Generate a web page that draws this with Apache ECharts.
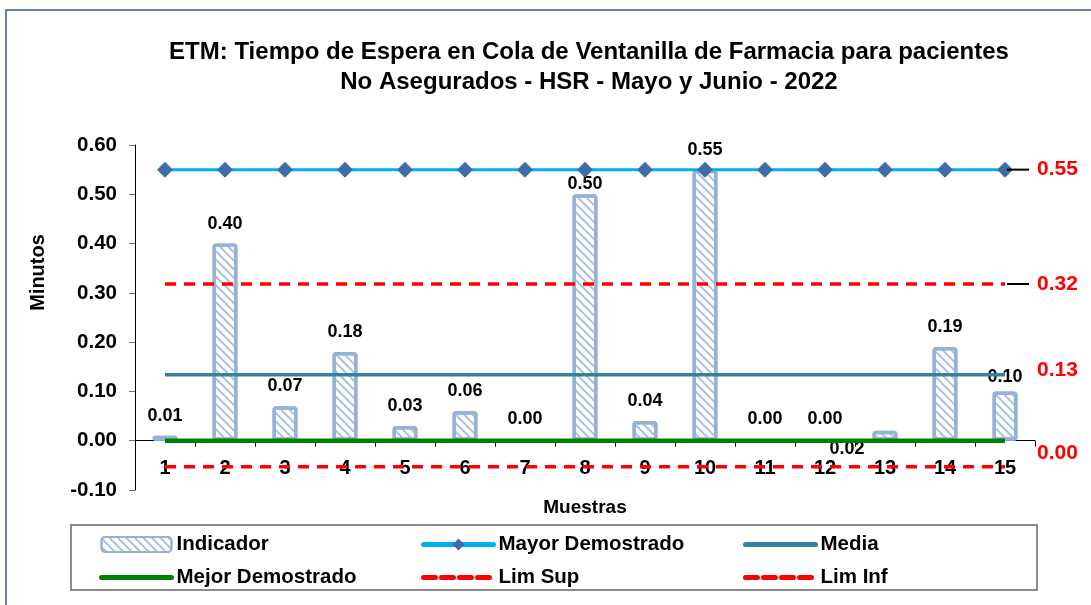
<!DOCTYPE html>
<html>
<head>
<meta charset="utf-8">
<script src="https://cdn.jsdelivr.net/npm/echarts@6/dist/echarts.min.js"></script>
<style>
  html, body { margin: 0; padding: 0; background: #fff; }
  #chart { width: 1091px; height: 605px; }
</style>
</head>
<body>
<div id="chart"></div>
<script>
// datos
var muestras = ['1', '2', '3', '4', '5', '6', '7', '8', '9', '10', '11', '12', '13', '14', '15'];
var indicador = [0.01, 0.40, 0.07, 0.18, 0.03, 0.06, 0.00, 0.50, 0.04, 0.55, 0.00, 0.00, 0.02, 0.19, 0.10];
var mayorDemostrado = 0.55;
var media = 0.134;
var mejorDemostrado = 0.00;
var limSup = 0.318;
var limInf = -0.053;
var yTicks = { min: -0.1, max: 0.6, step: 0.1 };

function flat(v) {
  return muestras.map(function () { return v; });
}

var font = 'Liberation Sans, Arial, sans-serif';
var azulBarra = '#95B3D7';

// etiqueta final a la derecha (con linea guia opcional)
function endLabel(color, guia, offsetY) {
  return {
    show: true,
    distance: 2,
    offset: [0, offsetY || 0],
    formatter: function (p) {
      var v = Math.max(0, p.value).toFixed(2);
      return (guia ? '{g|}' : '{e|}') + '{v|' + v + '}';
    },
    rich: {
      g: { width: 22, height: 2, backgroundColor: '#000', padding: 0 },
      e: { width: 22, height: 2 },
      v: { color: color, fontSize: 21, fontWeight: 'bold', fontFamily: font, padding: [0, 0, 0, 8] }
    }
  };
}

// leyenda: lineas mas gruesas y sin marcador
function itemLeyenda(nombre, tipo) {
  return {
    name: nombre,
    itemStyle: { opacity: 0 },
    lineStyle: { width: 5, cap: 'round', type: tipo || 'solid' }
  };
}

var chart = echarts.init(document.getElementById('chart'));
chart.setOption({
  backgroundColor: '#fff',
  animation: false,
  title: {
    text: 'ETM: Tiempo de Espera en Cola de Ventanilla de Farmacia para pacientes\nNo Asegurados - HSR - Mayo y Junio - 2022',
    left: 584,
    textAlign: 'center',
    top: 32,
    textStyle: { fontFamily: font, fontSize: 24, fontWeight: 'bold', color: '#000', lineHeight: 30 }
  },
  graphic: [
    { type: 'rect', shape: { x: 6, y: 10, width: 1200, height: 700 }, style: { fill: 'none', stroke: '#2E5C8E', lineWidth: 1.5 }, silent: true },
    { type: 'rect', shape: { x: 71, y: 525, width: 966, height: 65 }, style: { fill: 'none', stroke: '#666', lineWidth: 1.5 }, silent: true }
  ],
  legend: [
    { data: ['Indicador', itemLeyenda('Mejor Demostrado')], left: 99, top: 534 },
    { data: [{ name: 'Mayor Demostrado', lineStyle: { width: 5, cap: 'round' } }, itemLeyenda('Lim Sup', [12, 6])], left: 421, top: 534 },
    { data: [itemLeyenda('Media'), itemLeyenda('Lim Inf', [12, 6])], left: 743, top: 534 }
  ].map(function (l) {
    l.orient = 'vertical';
    l.itemWidth = 70;
    l.itemHeight = 15;
    l.itemGap = 12;
    l.padding = 0;
    l.textStyle = { fontFamily: font, fontSize: 20.5, fontWeight: 'bold', color: '#000', padding: [0, 0, 0, 0] };
    return l;
  }),
  grid: { left: 135, right: 56, top: 145, bottom: 115 },
  xAxis: {
    type: 'category',
    data: muestras,
    name: 'Muestras',
    nameLocation: 'middle',
    nameGap: 8,
    nameTextStyle: { fontFamily: font, fontSize: 19, fontWeight: 'bold', color: '#000' },
    axisLine: { onZero: true, lineStyle: { color: '#000', width: 1 } },
    axisTick: { show: true, length: 6, lineStyle: { color: '#000' } },
    axisLabel: { margin: -32, fontFamily: font, fontSize: 20, fontWeight: 'bold', color: '#000' }
  },
  yAxis: {
    type: 'value',
    min: yTicks.min,
    max: yTicks.max,
    interval: yTicks.step,
    name: 'Minutos',
    nameLocation: 'middle',
    nameGap: 87,
    nameTextStyle: { fontFamily: font, fontSize: 20, fontWeight: 'bold', color: '#000', padding: [0, 0, 0, 90] },
    axisLine: { show: true, lineStyle: { color: '#000', width: 1 } },
    axisTick: { show: true, length: 6, lineStyle: { color: '#777' } },
    splitLine: { show: false },
    axisLabel: {
      margin: 18, fontFamily: font, fontSize: 20.5, fontWeight: 'bold', color: '#000',
      formatter: function (v) { return v.toFixed(2); }
    }
  },
  series: [
    {
      name: 'Indicador',
      type: 'bar',
      data: indicador,
      barWidth: 25,
      z: 1,
      itemStyle: {
        color: '#fff',
        borderColor: azulBarra,
        borderWidth: 3.5,
        borderRadius: 2,
        decal: {
          symbol: 'rect',
          symbolSize: 1,
          color: '#A9C1DF',
          dashArrayX: [1, 0],
          dashArrayY: [2, 4],
          rotation: Math.PI / 4
        }
      },
      label: {
        show: true,
        position: 'top',
        distance: 11,
        fontFamily: font, fontSize: 18, fontWeight: 'bold', color: '#000',
        formatter: function (p) { return p.value.toFixed(2); }
      },
      labelLayout: function (p) {
        // ajustes manuales que tiene el original
        if (p.dataIndex === 12) return { dx: -38, dy: 38 };
        if (p.dataIndex === 7) return { dy: 10 };
        if (p.dataIndex === 14) return { dy: 6 };
        return {};
      }
    },
    {
      name: 'Mayor Demostrado',
      type: 'line',
      data: flat(mayorDemostrado),
      z: 4,
      symbol: 'diamond',
      symbolSize: 16,
      itemStyle: { color: '#3E6DA6' },
      lineStyle: { color: '#00B0F0', width: 3 },
      endLabel: endLabel('#FF0000', true)
    },
    {
      name: 'Media',
      type: 'line',
      data: flat(media),
      z: 3,
      symbol: 'none',
      itemStyle: { color: '#31849B' },
      lineStyle: { color: '#31849B', width: 3.5 },
      endLabel: endLabel('#FF0000', false, -4)
    },
    {
      name: 'Mejor Demostrado',
      type: 'line',
      data: flat(mejorDemostrado),
      z: 3,
      symbol: 'none',
      itemStyle: { color: '#008000' },
      lineStyle: { color: '#008000', width: 4.5 }
    },
    {
      name: 'Lim Sup',
      type: 'line',
      data: flat(limSup),
      z: 3,
      symbol: 'none',
      itemStyle: { color: '#FF0000' },
      lineStyle: { color: '#FF0000', width: 3.5, type: [11, 8] },
      endLabel: endLabel('#FF0000', true)
    },
    {
      name: 'Lim Inf',
      type: 'line',
      data: flat(limInf),
      z: 3,
      symbol: 'none',
      itemStyle: { color: '#FF0000' },
      lineStyle: { color: '#FF0000', width: 3.5, type: [11, 8] },
      endLabel: endLabel('#FF0000', false, -14)
    }
  ]
});
</script>
</body>
</html>
